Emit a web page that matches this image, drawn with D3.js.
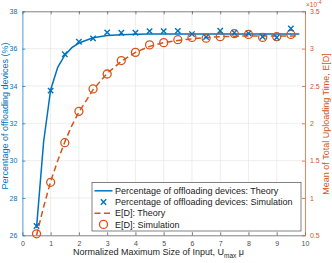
<!DOCTYPE html>
<html>
<head>
<meta charset="utf-8">
<script src="https://cdn.jsdelivr.net/npm/d3@7"></script>
<style>
  body { margin: 0; background: #fff; }
  text { font-family: "Liberation Sans", Arial, sans-serif; }
</style>
</head>
<body>
<div id="chart"></div>
<script>
// data
const simX = [0.5, 1, 1.5, 2, 2.5, 3, 3.5, 4, 4.5, 5, 5.5, 6, 6.5, 7, 7.5, 8, 8.5, 9, 9.5];
const pctSim = [26.5, 33.75, 35.7, 36.37, 36.55, 36.87, 36.85, 36.85, 36.94, 36.94, 36.95, 36.78, 36.62, 36.96, 36.85, 36.82, 36.64, 36.6, 37.08];
const edSim = [0.52, 1.21, 1.74, 2.16, 2.46, 2.66, 2.84, 2.95, 3.05, 3.08, 3.12, 3.15, 3.14, 3.16, 3.2, 3.19, 3.15, 3.16, 3.19];

const theoryX = [0.5, 0.75, 1, 1.25, 1.5, 1.75, 2, 2.5, 3, 3.5, 4, 4.5, 5, 5.5, 6, 6.5, 7, 7.5, 8, 8.5, 9, 9.5, 9.8];
const pctTheory = [26.4, 31.0, 33.8, 35.0, 35.65, 36.05, 36.3, 36.58, 36.7, 36.75, 36.77, 36.78, 36.78, 36.78, 36.78, 36.78, 36.78, 36.78, 36.78, 36.78, 36.78, 36.78, 36.78];
const edTheory = [0.5, 0.88, 1.22, 1.5, 1.75, 1.97, 2.15, 2.45, 2.67, 2.83, 2.95, 3.03, 3.08, 3.11, 3.13, 3.15, 3.16, 3.165, 3.17, 3.17, 3.17, 3.17, 3.17];

const xTicks = d3.range(0, 11, 1);
const yLeftTicks = [26, 28, 30, 32, 34, 36, 38];
const yRightTicks = [0.5, 1, 1.5, 2, 2.5, 3, 3.5];

const legendItems = [
  { label: "Percentage of offloading devices: Theory", kind: "line", color: "#0072BD" },
  { label: "Percentage of offloading devices: Simulation", kind: "cross", color: "#0072BD" },
  { label: "E[D]: Theory", kind: "dash", color: "#D95319" },
  { label: "E[D]: Simulation", kind: "circle", color: "#D95319" }
];

const W = 332, H = 263;
const margin = { left: 22.4, right: 27, top: 11.3, bottom: 27.7 };
const innerW = W - margin.left - margin.right;
const innerH = H - margin.top - margin.bottom;
const blue = "#0072BD", orange = "#D95319";

const svg = d3.select("#chart").append("svg").attr("width", W).attr("height", H);
const g = svg.append("g").attr("transform", `translate(${margin.left},${margin.top})`);

const x = d3.scaleLinear().domain([0, 10]).range([0, innerW]);
const yL = d3.scaleLinear().domain([26, 38]).range([innerH, 0]);
const yR = d3.scaleLinear().domain([0.5, 3.5]).range([innerH, 0]);

// grid
g.append("g").selectAll("line").data(xTicks.slice(1, -1)).join("line")
  .attr("x1", d => x(d)).attr("x2", d => x(d)).attr("y1", 0).attr("y2", innerH)
  .attr("stroke", "#e3e3e3").attr("stroke-width", 0.6);
g.append("g").selectAll("line").data(yLeftTicks.slice(1, -1)).join("line")
  .attr("y1", d => yL(d)).attr("y2", d => yL(d)).attr("x1", 0).attr("x2", innerW)
  .attr("stroke", "#e3e3e3").attr("stroke-width", 0.6);

// axes
function styleAxis(sel, color) {
  sel.select(".domain").attr("stroke", color).attr("stroke-width", 0.7);
  sel.selectAll(".tick line").attr("stroke", color).attr("stroke-width", 0.7);
  sel.selectAll(".tick text").attr("fill", color).style("font-size", "7px")
    .style("font-family", "Liberation Sans, Arial, sans-serif");
}
const axB = g.append("g").attr("transform", `translate(0,${innerH})`)
  .call(d3.axisBottom(x).tickValues(xTicks).tickSize(-3).tickPadding(6).tickSizeOuter(0));
styleAxis(axB, "#4d4d4d");
const axT = g.append("g")
  .call(d3.axisTop(x).tickValues(xTicks).tickSize(-3).tickFormat("").tickSizeOuter(0));
styleAxis(axT, "#4d4d4d");
const axL = g.append("g")
  .call(d3.axisLeft(yL).tickValues(yLeftTicks).tickSize(-3).tickPadding(5).tickSizeOuter(0));
styleAxis(axL, blue);
const axR = g.append("g").attr("transform", `translate(${innerW},0)`)
  .call(d3.axisRight(yR).tickValues(yRightTicks).tickSize(-3).tickPadding(5).tickSizeOuter(0)
    .tickFormat(d3.format("~g")));
styleAxis(axR, orange);

// exponent label
const expo = g.append("text").attr("x", innerW + 1).attr("y", -4)
  .attr("fill", orange).style("font-size", "6.5px");
expo.append("tspan").text("×10");
expo.append("tspan").attr("dy", -3).style("font-size", "5px").text("-4");

// series
const lineL = d3.line().x((d, i) => x(theoryX[i])).y(d => yL(d));
const lineR = d3.line().x((d, i) => x(theoryX[i])).y(d => yR(d));

g.append("path").datum(edTheory).attr("d", lineR).attr("fill", "none")
  .attr("stroke", orange).attr("stroke-width", 1.5).attr("stroke-dasharray", "6,3.5");
g.append("path").datum(pctTheory).attr("d", lineL).attr("fill", "none")
  .attr("stroke", blue).attr("stroke-width", 1.5);

g.append("g").selectAll("circle").data(edSim).join("circle")
  .attr("cx", (d, i) => x(simX[i])).attr("cy", d => yR(d)).attr("r", 4)
  .attr("fill", "none").attr("stroke", orange).attr("stroke-width", 1.3);

const cross = 2.7;
function drawCross(sel, cx, cy) {
  sel.append("path")
    .attr("d", `M${cx - cross},${cy - cross}L${cx + cross},${cy + cross}M${cx - cross},${cy + cross}L${cx + cross},${cy - cross}`)
    .attr("stroke", blue).attr("stroke-width", 1.4).attr("fill", "none");
}
const crossG = g.append("g");
pctSim.forEach((d, i) => drawCross(crossG, x(simX[i]), yL(d)));

// legend
const lg = svg.append("g").attr("transform", "translate(92,182.5)");
lg.append("rect").attr("width", 209).attr("height", 48.5)
  .attr("fill", "#fff").attr("stroke", "#4d4d4d").attr("stroke-width", 0.7);
legendItems.forEach((it, i) => {
  const cy = 8.3 + i * 11.2;
  const row = lg.append("g");
  if (it.kind === "line" || it.kind === "dash") {
    row.append("line").attr("x1", 2.5).attr("x2", 20.5).attr("y1", cy).attr("y2", cy)
      .attr("stroke", it.color).attr("stroke-width", 1.5)
      .attr("stroke-dasharray", it.kind === "dash" ? "6,3.5" : null);
  } else if (it.kind === "cross") {
    drawCross(row, 11.5, cy);
  } else {
    row.append("circle").attr("cx", 11.5).attr("cy", cy).attr("r", 4)
      .attr("fill", "none").attr("stroke", it.color).attr("stroke-width", 1.3);
  }
  row.append("text").attr("x", 23).attr("y", cy + 3.2).attr("fill", "#1a1a1a")
    .style("font-size", "9px").text(it.label);
});

// axis titles
svg.append("text")
  .attr("transform", "translate(8,116) rotate(-90)")
  .attr("text-anchor", "middle").attr("fill", blue).style("font-size", "9px")
  .text("Percentage of offloading devices (%)");
svg.append("text")
  .attr("transform", "translate(329,124) rotate(-90)")
  .attr("text-anchor", "middle").attr("fill", orange).style("font-size", "9px")
  .text("Mean of Total Uploading Time, E[D]");
const xl = svg.append("text").attr("x", 73).attr("y", 255)
  .attr("fill", "#262626").style("font-size", "9px");
xl.append("tspan").text("Normalized Maximum Size of Input, U");
xl.append("tspan").attr("dy", 3).style("font-size", "6.5px").text("max");
xl.append("tspan").attr("dy", -3).text(" μ");
</script>
</body>
</html>
